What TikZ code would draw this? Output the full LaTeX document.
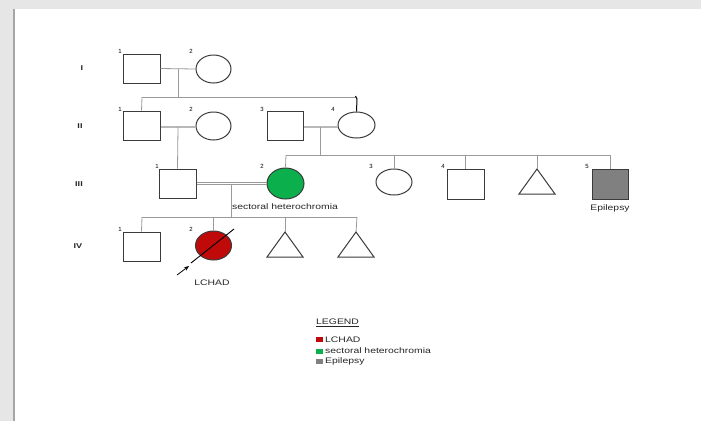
\documentclass[tikz,border=0pt]{standalone}
\usepackage{fontspec}
\setmainfont{Liberation Sans}
\usetikzlibrary{shapes.geometric,arrows.meta}
\definecolor{outl}{HTML}{3A3A3A}
\definecolor{conn}{HTML}{9A9A9A}
\definecolor{marr}{HTML}{B8B8B8}
\definecolor{lchad}{HTML}{C00A0A}
\definecolor{sect}{HTML}{0BAF4C}
\definecolor{epi}{HTML}{808080}
\definecolor{bggray}{HTML}{E6E6E6}
\newcommand{\wtxt}[1]{\scalebox{1.3}[1]{#1}}
\tikzset{
  male/.style={draw=outl, line width=1pt, rectangle, minimum width=37pt, minimum height=29pt, inner sep=0pt},
  female/.style={draw=outl, line width=1pt, ellipse, minimum width=36pt, minimum height=28pt, inner sep=0pt},
  tri/.style={draw=outl, line width=1pt, line join=miter},
  conline/.style={draw=conn, line width=0.8pt},
  marline/.style={draw=marr, line width=2pt},
  num/.style={font=\fontsize{6}{7}\selectfont, text=black, inner sep=0pt},
  gen/.style={font=\fontsize{7}{8}\selectfont\bfseries, text=black!85, inner sep=0pt},
  lbl/.style={font=\fontsize{8}{9}\selectfont, text=black!85, inner sep=0pt},
  legsq/.style={rectangle, minimum width=7pt, minimum height=5pt, inner sep=0pt}
}
\begin{document}
\begin{tikzpicture}[x=1pt,y=-1pt]
\useasboundingbox (0,0) rectangle (701,421);
\fill[bggray] (0,0) rectangle (701,421);
\fill[white] (14,9) rectangle (701,421);
\draw[black!35, line width=1.5pt] (14,9) -- (14,421);

% generation labels
\node[gen] (gI) at (82,68) {\wtxt{I}};
\node[gen] (gII) at (80,126) {\wtxt{II}};
\node[gen] (gIII) at (79,184) {\wtxt{III}};
\node[gen] (gIV) at (78,246) {\wtxt{IV}};

% Generation I
\node[male] (I1) at (141.5,68.5) {};
\node[female, minimum width=35pt] (I2) at (213.5,69) {};
\node[num] (nI1) at (120,51) {1};
\node[num] (nI2) at (191,51) {2};
\coordinate (mI) at (178,69);
\coordinate (sI) at (178,97);
\coordinate (sIa) at (142,97);
\coordinate (sIb) at (357,97);

% Generation II
\node[male] (II1) at (141.5,125.5) {};
\node[female, minimum width=35pt] (II2) at (213.5,126) {};
\node[male, minimum width=36pt] (II3) at (285,125.5) {};
\node[female, minimum width=37pt, minimum height=26pt] (II4) at (356.5,125) {};
\node[num] (nII1) at (120,109) {1};
\node[num] (nII2) at (191,109) {2};
\node[num] (nII3) at (262,109) {3};
\node[num] (nII4) at (333,109) {4};
\coordinate (mII1) at (178,127);
\coordinate (mII2) at (320,127);
\coordinate (sII) at (320,155);
\coordinate (sIIa) at (286,155);
\coordinate (sIIb) at (610,155);

% Generation III
\node[male] (III1) at (177.5,183.5) {};
\node[female, fill=sect, minimum width=37pt, minimum height=31pt] (III2) at (285.5,183.5) {};
\node[female, minimum height=26pt] (III3) at (394,182) {};
\node[male, minimum height=30pt] (III4) at (465.5,184) {};
\coordinate (T3) at (537,169);
\node[male, fill=epi, minimum width=36pt, minimum height=30pt] (III5) at (610,184) {};
\node[num] (nIII1) at (157,166) {1};
\node[num] (nIII2) at (262,166) {2};
\node[num] (nIII3) at (371,166) {3};
\node[num] (nIII4) at (443,166) {4};
\node[num] (nIII5) at (587,166) {5};
\node[lbl] (tsect) at (285,207) {\wtxt{sectoral heterochromia}};
\node[lbl] (tepi) at (610,208) {\wtxt{Epilepsy}};
\coordinate (mIII) at (231,184);
\coordinate (sIII) at (231,217);
\coordinate (sIIIa) at (142,217);
\coordinate (sIIIb) at (357,217);

% Generation IV
\node[male] (IV1) at (141.5,246.5) {};
\node[female, fill=lchad, minimum width=36pt, minimum height=29pt] (IV2) at (213.5,245.5) {};
\coordinate (T41) at (285,232);
\coordinate (T42) at (356,232);
\node[num] (nIV1) at (120,229) {1};
\node[num] (nIV2) at (191,229) {2};
\node[lbl] (tlchad) at (212,283) {\wtxt{LCHAD}};

% triangles
\draw[tri] (T3) -- (519,194) -- (555,194) -- cycle;
\draw[tri] (T41) -- (267,257) -- (303,257) -- cycle;
\draw[tri] (T42) -- (338,257) -- (374,257) -- cycle;

% deceased line and proband arrow
\coordinate (d1) at (234,229);
\coordinate (d2) at (191,263);
\draw[black, line width=0.9pt] (d1) -- (d2);
\coordinate (a1) at (177,275);
\coordinate (a2) at (189,266);
\draw[black, line width=0.8pt, -{Stealth[length=5pt,width=4pt]}] (a1) -- (a2);

% connectors
\draw[conline] (I1.east) -- (I2.west);
\draw[conline] (mI) -- (sI);
\draw[conline] (sIa) -- (sIb);
\draw[conline] (sIa) -- (II1.north);
\draw[black, line width=1pt] (355.5,96) -- (357,99) -- (II4.north);

\draw[marline] (II1.east |- mII1) -- (II2.west |- mII1);
\draw[conline] (mII1) -- (III1.north);
\draw[marline] (II3.east |- mII2) -- (II4.west |- mII2);
\draw[conline] (mII2) -- (sII);
\draw[conline] (sIIa) -- (sIIb);
\draw[conline] (sIIa) -- (III2.north);
\draw[conline] (III3.north |- sIIa) -- (III3.north);
\draw[conline] (III4.north |- sIIa) -- (III4.north);
\draw[conline] (T3 |- sIIa) -- (T3);
\draw[conline] (sIIb) -- (III5.north);

\draw[conline] ([yshift=-1.3pt]III1.east) -- ([yshift=-1.3pt]III2.west);
\draw[conline] ([yshift=1.3pt]III1.east) -- ([yshift=1.3pt]III2.west);
\draw[conline] (mIII) -- (sIII);
\draw[conline] (sIIIa) -- (sIIIb);
\draw[conline] (sIIIa) -- (IV1.north);
\draw[conline] (IV2.north |- sIIIa) -- (IV2.north);
\draw[conline] (T41 |- sIIIa) -- (T41);
\draw[conline] (sIIIb) -- (T42);

% legend
\node[lbl, anchor=west] (leg) at (316,323) {\wtxt{\underline{LEGEND}}};
\node[legsq, fill=lchad, anchor=west] (lq1) at (316,339.5) {};
\node[legsq, fill=sect, anchor=west] (lq2) at (316,351) {};
\node[legsq, fill=epi, anchor=west] (lq3) at (316,361.5) {};
\node[lbl, anchor=west] (lt1) at (325,339.5) {\wtxt{LCHAD}};
\node[lbl, anchor=west] (lt2) at (325,351) {\wtxt{sectoral heterochromia}};
\node[lbl, anchor=west] (lt3) at (325,361.5) {\wtxt{Epilepsy}};
\end{tikzpicture}
\end{document}
